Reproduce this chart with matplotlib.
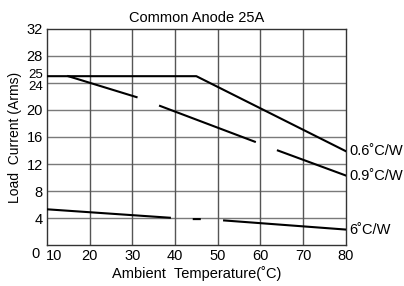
import matplotlib.pyplot as plt
import matplotlib.transforms as mtransforms
import numpy as np

plt.rcParams['font.family'] = ['Liberation Sans', 'DejaVu Sans']

# curve data (NaN = gap in the printed curve)
temp_06 = [10, 45, 80]
curr_06 = [25, 25, 13.9]

temp_09 = [15, 31, np.nan, 36.5, 58.7, np.nan, 64.1, 80]
curr_09 = [25, 21.9, np.nan, 20.6, 15.3, np.nan, 14.0, 10.3]

temp_6 = [10, 38.8, np.nan, 44.4, 45.8, np.nan, 51.5, 80]
curr_6 = [5.3, 4.05, np.nan, 3.85, 3.85, np.nan, 3.65, 2.3]

x_ticks = [10, 20, 30, 40, 50, 60, 70, 80]
y_ticks = [0, 4, 8, 12, 16, 20, 24, 25, 28, 32]
y_grid = [4, 8, 12, 16, 20, 24, 28]
labels = ['0.6˚C/W', '0.9˚C/W', '6˚C/W']

fig = plt.figure(figsize=(4.04, 2.86), dpi=100)
ax = fig.add_axes([0.116, 0.143, 0.740, 0.756])

for yv in y_grid:
    ax.axhline(yv, color='#7a7a7a', lw=1.0, zorder=1)
for xv in x_ticks[1:-1]:
    ax.axvline(xv, color='#555555', lw=1.0, zorder=1)

ax.plot(temp_06, curr_06, color='black', lw=1.5, zorder=3)
ax.plot(temp_09, curr_09, color='black', lw=1.5, zorder=3)
ax.plot(temp_6, curr_6, color='black', lw=1.5, zorder=3)

# curve labels at right end
for lab, yv in zip(labels, [curr_06[-1], curr_09[-1], curr_6[-1]]):
    ax.text(80.8, yv, lab, fontsize=10.5, va='center', ha='left')

ax.set_xlim(10, 80)
ax.set_ylim(0, 32)
ax.set_xticks(x_ticks)
ax.set_yticks(y_ticks)
ax.tick_params(length=0, labelsize=10.5, pad=3)
for s in ax.spines.values():
    s.set_color('#333333')
    s.set_linewidth(1.0)


def nudge(lab, dx, dy):
    lab.set_transform(lab.get_transform() +
                      mtransforms.ScaledTranslation(dx / 72, dy / 72, fig.dpi_scale_trans))


# nudge the crowded labels like the printed chart
fig.canvas.draw()
ylabs = ax.get_yticklabels()
xlabs = ax.get_xticklabels()
nudge(ylabs[0], -2, -5)
ylabs[6].set_fontsize(9.5)
ylabs[7].set_fontsize(9.5)
nudge(ylabs[7], 0, 2)
nudge(ylabs[6], 0, -2)
nudge(xlabs[0], 5, 0)

ax.set_title('Common Anode 25A', fontsize=10.5, pad=5)
ax.set_xlabel('Ambient  Temperature(˚C)', fontsize=10.5, labelpad=2)
ax.set_ylabel('Load  Current (Arms)', fontsize=10, labelpad=3)

fig.savefig('out.png', dpi=100)
